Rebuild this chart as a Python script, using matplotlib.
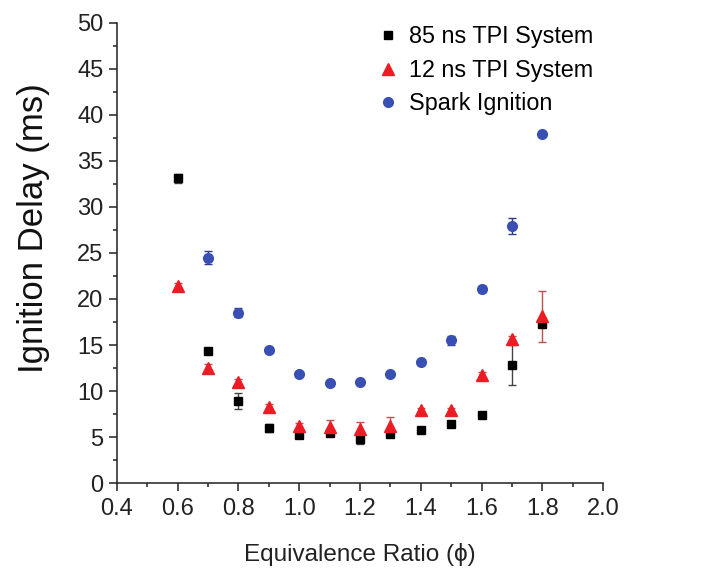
import matplotlib
matplotlib.use('Agg')
import matplotlib.pyplot as plt
from matplotlib.ticker import MultipleLocator

plt.rcParams['font.family'] = ['Liberation Sans', 'DejaVu Sans']

phi = [0.6, 0.7, 0.8, 0.9, 1.0, 1.1, 1.2, 1.3, 1.4, 1.5, 1.6, 1.7, 1.8]

tpi85 = [33.1, 14.4, 8.9, 6.0, 5.2, 5.4, 4.8, 5.3, 5.8, 6.4, 7.4, 12.8, 17.3]
tpi85_err = [0.5, 0.2, 0.9, 0.4, 0.2, 0.3, 0.6, 0.3, 0.2, 0.2, 0.2, 2.2, 0.3]

tpi12 = [21.4, 12.5, 11.0, 8.3, 6.2, 6.1, 5.9, 6.2, 7.9, 7.9, 11.7, 15.6, 18.1]
tpi12_err = [0.3, 0.4, 0.3, 0.3, 0.3, 0.8, 0.7, 1.0, 0.3, 0.3, 0.4, 0.4, 2.8]

spark_phi = [0.7, 0.8, 0.9, 1.0, 1.1, 1.2, 1.3, 1.4, 1.5, 1.6, 1.7, 1.8]
spark = [24.5, 18.5, 14.5, 11.9, 10.9, 11.0, 11.8, 13.1, 15.5, 21.1, 27.9, 37.9]
spark_err = [0.7, 0.5, 0.2, 0.2, 0.2, 0.2, 0.2, 0.2, 0.5, 0.3, 0.85, 0.2]

blk = '#000000'
red = '#ec1c24'
blue = '#3a4fb4'

fig = plt.figure(figsize=(7.03, 5.73), dpi=100)
ax = fig.add_axes([0.166, 0.157, 0.692, 0.803])

ax.errorbar(phi, tpi85, yerr=tpi85_err, fmt='none', ecolor='#444444', elinewidth=1, capsize=3)
ax.errorbar(phi, tpi12, yerr=tpi12_err, fmt='none', ecolor='#c0504d', elinewidth=1, capsize=3)
ax.errorbar(spark_phi, spark, yerr=spark_err, fmt='none', ecolor='#2b3a8a', elinewidth=1, capsize=3)

ax.plot(phi, tpi85, 's', color=blk, markersize=6, label='85 ns TPI System', zorder=3)
ax.plot(phi, tpi12, '^', color=red, markersize=8.5, label='12 ns TPI System', zorder=3)
ax.plot(spark_phi, spark, 'o', color=blue, markersize=7, label='Spark Ignition', zorder=3)

ax.set_xlim(0.4, 2.0)
ax.set_ylim(0, 50)
ax.xaxis.set_major_locator(MultipleLocator(0.2))
ax.xaxis.set_minor_locator(MultipleLocator(0.1))
ax.yaxis.set_major_locator(MultipleLocator(5))
ax.yaxis.set_minor_locator(MultipleLocator(2.5))
ax.xaxis.set_major_formatter(plt.FuncFormatter(lambda v, p: '%.1f' % v))

for s in ['top', 'right']:
    ax.spines[s].set_visible(False)
for s in ['left', 'bottom']:
    ax.spines[s].set_linewidth(1.1)
    ax.spines[s].set_color('#222222')

ax.tick_params(which='major', direction='out', length=5.5, width=1.1, labelsize=17, colors='#222222')
ax.tick_params(which='minor', direction='out', length=3, width=1.1, colors='#222222')
ax.tick_params(axis='x', pad=5)
ax.tick_params(axis='y', pad=4)

ax.set_xlabel('Equivalence Ratio (\u03d5)', fontsize=17.5, labelpad=17, color='#222222')
ax.set_ylabel('Ignition Delay (ms)', fontsize=25, color='#111111')
ax.yaxis.set_label_coords(-0.138, 0.555)

ax.legend(loc='upper right', bbox_to_anchor=(1.008, 1.025), frameon=False, fontsize=16.8,
          handletextpad=0.3, labelspacing=0.45, handlelength=1.2, borderaxespad=0.2)

fig.savefig('out.png', dpi=100)
